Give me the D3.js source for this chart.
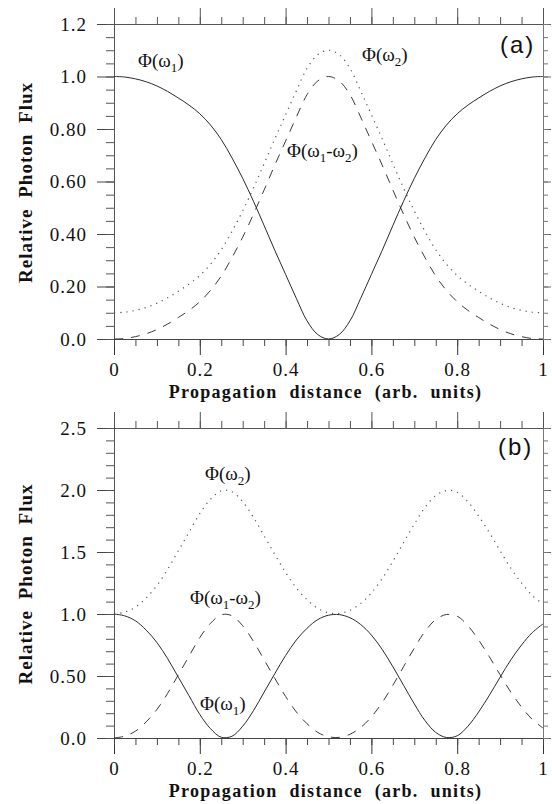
<!DOCTYPE html>
<html>
<head>
<meta charset="utf-8">
<script src="https://cdn.jsdelivr.net/npm/d3@7"></script>
<style>
  html, body { margin: 0; padding: 0; background: #fff; }
  svg { display: block; }
  .tick text { font-family: "Liberation Serif", "Times New Roman", serif; font-size: 19px; fill: #111; letter-spacing: 1px; }
</style>
</head>
<body>
<svg id="chart" width="552" height="804"></svg>
<script>
// ---- data ----
const xs = [0, 0.025, 0.05, 0.075, 0.1, 0.125, 0.15, 0.175, 0.2, 0.225, 0.25, 0.275, 0.3, 0.325, 0.35, 0.375, 0.4, 0.425, 0.45, 0.475, 0.5,
            0.525, 0.55, 0.575, 0.6, 0.625, 0.65, 0.675, 0.7, 0.725, 0.75, 0.775, 0.8, 0.825, 0.85, 0.875, 0.9, 0.925, 0.95, 0.975, 1.0];

// panel (a)
const phi1A  = [1.0, 0.998, 0.991, 0.980, 0.964, 0.943, 0.918, 0.891, 0.858, 0.815, 0.760, 0.690, 0.612, 0.525, 0.432, 0.337, 0.246, 0.155, 0.069, 0.017, 0.0,
                0.017, 0.069, 0.155, 0.246, 0.337, 0.432, 0.525, 0.612, 0.690, 0.760, 0.815, 0.858, 0.891, 0.918, 0.943, 0.964, 0.980, 0.991, 0.998, 1.0];
const idlerA = [0.0, 0.002, 0.009, 0.020, 0.036, 0.057, 0.082, 0.109, 0.142, 0.185, 0.240, 0.310, 0.388, 0.475, 0.568, 0.663, 0.754, 0.845, 0.931, 0.983, 1.0,
                0.983, 0.931, 0.845, 0.754, 0.663, 0.568, 0.475, 0.388, 0.310, 0.240, 0.185, 0.142, 0.109, 0.082, 0.057, 0.036, 0.020, 0.009, 0.002, 0.0];
const phi2A  = [0.100, 0.102, 0.109, 0.120, 0.136, 0.157, 0.182, 0.209, 0.242, 0.285, 0.340, 0.410, 0.488, 0.575, 0.668, 0.763, 0.854, 0.945, 1.031, 1.083, 1.10,
                1.083, 1.031, 0.945, 0.854, 0.763, 0.668, 0.575, 0.488, 0.410, 0.340, 0.285, 0.242, 0.209, 0.182, 0.157, 0.136, 0.120, 0.109, 0.102, 0.100];

// panel (b)
const phi1B  = [1.0, 0.985, 0.945, 0.87, 0.77, 0.64, 0.49, 0.34, 0.19, 0.075, 0.006, 0.014, 0.095, 0.22, 0.37, 0.52, 0.665, 0.79, 0.885, 0.955, 0.99,
                0.995, 0.97, 0.915, 0.83, 0.715, 0.575, 0.425, 0.275, 0.14, 0.045, 0.004, 0.018, 0.095, 0.21, 0.345, 0.49, 0.63, 0.75, 0.85, 0.92];
const idlerB = [0.0, 0.015, 0.055, 0.13, 0.23, 0.36, 0.51, 0.66, 0.81, 0.925, 0.994, 0.986, 0.905, 0.78, 0.63, 0.48, 0.335, 0.21, 0.115, 0.045, 0.01,
                0.005, 0.03, 0.085, 0.17, 0.285, 0.425, 0.575, 0.725, 0.86, 0.955, 0.996, 0.982, 0.905, 0.79, 0.655, 0.51, 0.37, 0.25, 0.15, 0.08];
const phi2B  = [1.0, 1.015, 1.055, 1.13, 1.23, 1.36, 1.51, 1.66, 1.81, 1.925, 1.994, 1.986, 1.905, 1.78, 1.63, 1.48, 1.335, 1.21, 1.115, 1.045, 1.01,
                1.005, 1.03, 1.085, 1.17, 1.285, 1.425, 1.575, 1.725, 1.86, 1.955, 1.996, 1.982, 1.905, 1.79, 1.655, 1.51, 1.37, 1.25, 1.15, 1.08];

// ticks
const xTicks = [0, 0.2, 0.4, 0.6, 0.8, 1];
const xTickLabels = ["0", "0.2", "0.4", "0.6", "0.8", "1"];
const yTicksA = [0, 0.2, 0.4, 0.6, 0.8, 1.0, 1.2];
const yTickLabelsA = ["0.0", "0.20", "0.40", "0.60", "0.80", "1.0", "1.2"];
const yTicksB = [0, 0.5, 1.0, 1.5, 2.0, 2.5];
const yTickLabelsB = ["0.0", "0.50", "1.0", "1.5", "2.0", "2.5"];

const xTitle = "Propagation distance (arb. units)";
const yTitle = "Relative Photon Flux";

// ---- drawing ----
const svg = d3.select("#chart");
const left = 114, right = 543;
const serif = '"Liberation Serif", "Times New Roman", serif';

function fmtTick(vals, labels) {
  return d => { const i = vals.findIndex(v => Math.abs(v - d) < 1e-9); return i >= 0 ? labels[i] : ""; };
}

function drawPanel(cfg) {
  const x = d3.scaleLinear().domain([0, 1]).range([left, right]);
  const y = d3.scaleLinear().domain([0, cfg.yMax]).range([cfg.bottom, cfg.top]);
  const g = svg.append("g");
  const xMinor = d3.range(0, 1.0001, 0.05);
  const yMinor = d3.range(0, cfg.yMax + 1e-6, cfg.yMinorStep);

  function styleAxis(sel, col) {
    sel.select(".domain").attr("stroke", col).attr("stroke-width", 1);
    sel.selectAll(".tick line").attr("stroke", col).attr("stroke-width", 1);
  }

  // bottom
  const gb1 = g.append("g").attr("transform", `translate(0,${cfg.bottom})`)
    .call(d3.axisBottom(x).tickValues(xTicks).tickSize(16).tickPadding(8).tickFormat(fmtTick(xTicks, xTickLabels)));
  styleAxis(gb1, "#333");
  const gb2 = g.append("g").attr("transform", `translate(0,${cfg.bottom})`)
    .call(d3.axisBottom(x).tickValues(xMinor).tickSize(7).tickFormat(""));
  styleAxis(gb2, "#444");
  // top
  const gt1 = g.append("g").attr("transform", `translate(0,${cfg.top})`)
    .call(d3.axisTop(x).tickValues(xTicks).tickSize(16).tickFormat(""));
  styleAxis(gt1, "#555");
  const gt2 = g.append("g").attr("transform", `translate(0,${cfg.top})`)
    .call(d3.axisTop(x).tickValues(xMinor).tickSize(7).tickFormat(""));
  styleAxis(gt2, "#555");
  // left
  const gl1 = g.append("g").attr("transform", `translate(${left},0)`)
    .call(d3.axisLeft(y).tickValues(cfg.yTicks).tickSize(17).tickPadding(10).tickFormat(fmtTick(cfg.yTicks, cfg.yLabels)));
  styleAxis(gl1, "#444");
  const gl2 = g.append("g").attr("transform", `translate(${left},0)`)
    .call(d3.axisLeft(y).tickValues(yMinor).tickSize(8).tickFormat(""));
  styleAxis(gl2, "#555");
  // right
  const gr1 = g.append("g").attr("transform", `translate(${right},0)`)
    .call(d3.axisRight(y).tickValues(cfg.yTicks).tickSize(8).tickFormat(""));
  styleAxis(gr1, "#666");
  const gr2 = g.append("g").attr("transform", `translate(${right},0)`)
    .call(d3.axisRight(y).tickValues(yMinor).tickSize(5).tickFormat(""));
  styleAxis(gr2, "#777");

  // curves
  const mk = (arr) => xs.map((xv, i) => [xv, arr[i]]);
  const line = d3.line().x(d => x(d[0])).y(d => y(d[1])).curve(d3.curveCatmullRom.alpha(0.5));
  g.append("path").attr("d", line(mk(cfg.dotted))).attr("fill", "none")
    .attr("stroke", "#555").attr("stroke-width", 1.2).attr("stroke-dasharray", "1.2,5");
  g.append("path").attr("d", line(mk(cfg.dashed))).attr("fill", "none")
    .attr("stroke", "#3a3a3a").attr("stroke-width", 1).attr("stroke-dasharray", "9,8");
  g.append("path").attr("d", line(mk(cfg.solid))).attr("fill", "none")
    .attr("stroke", "#2a2a2a").attr("stroke-width", 1);

  // axis titles
  g.append("text").attr("x", (left + right) / 2 - 3).attr("y", cfg.xTitleY)
    .attr("text-anchor", "middle").attr("font-family", serif).attr("font-weight", "bold")
    .attr("font-size", 18).attr("letter-spacing", "1.3px").attr("word-spacing", "6px")
    .attr("fill", "#111").text(xTitle);
  g.append("text")
    .attr("transform", `translate(32,${(cfg.top + cfg.bottom) / 2 + 1}) rotate(-90)`)
    .attr("text-anchor", "middle").attr("font-family", serif).attr("font-weight", "bold")
    .attr("font-size", 19).attr("letter-spacing", "1px").attr("word-spacing", "5px")
    .attr("fill", "#111").text(yTitle);

  // panel tag
  g.append("text").attr("x", cfg.tag.x).attr("y", cfg.tag.y)
    .attr("font-family", '"Liberation Sans", Arial, sans-serif').attr("font-size", 24)
    .attr("letter-spacing", "2px").attr("fill", "#111").text(cfg.tag.t);

  // curve labels
  cfg.labels.forEach(l => {
    const t = g.append("text").attr("x", l.x).attr("y", l.y)
      .attr("font-family", serif).attr("font-size", 19).attr("fill", "#111");
    l.parts.forEach(p => {
      const ts = t.append("tspan").text(p.s);
      if (p.sub) ts.attr("font-size", 13).attr("dy", 5);
      if (p.up) ts.attr("dy", -5);
    });
  });
}

const lab1 = [{s: "Φ(ω"}, {s: "1", sub: true}, {s: ")", up: true}];
const lab2 = [{s: "Φ(ω"}, {s: "2", sub: true}, {s: ")", up: true}];
const lab12 = [{s: "Φ(ω"}, {s: "1", sub: true}, {s: "-ω", up: true}, {s: "2", sub: true}, {s: ")", up: true}];

drawPanel({
  top: 24, bottom: 339, yMax: 1.2, yMinorStep: 0.05,
  yTicks: yTicksA, yLabels: yTickLabelsA,
  solid: phi1A, dashed: idlerA, dotted: phi2A,
  xTitleY: 398,
  tag: {x: 500, y: 53, t: "(a)"},
  labels: [
    {x: 138, y: 67, parts: lab1},
    {x: 362, y: 61, parts: lab2},
    {x: 287, y: 157, parts: lab12}
  ]
});

drawPanel({
  top: 428, bottom: 738, yMax: 2.5, yMinorStep: 0.1,
  yTicks: yTicksB, yLabels: yTickLabelsB,
  solid: phi1B, dashed: idlerB, dotted: phi2B,
  xTitleY: 797,
  tag: {x: 498, y: 455, t: "(b)"},
  labels: [
    {x: 205, y: 480, parts: lab2},
    {x: 190, y: 604, parts: lab12},
    {x: 200, y: 710, parts: lab1}
  ]
});
</script>
</body>
</html>
